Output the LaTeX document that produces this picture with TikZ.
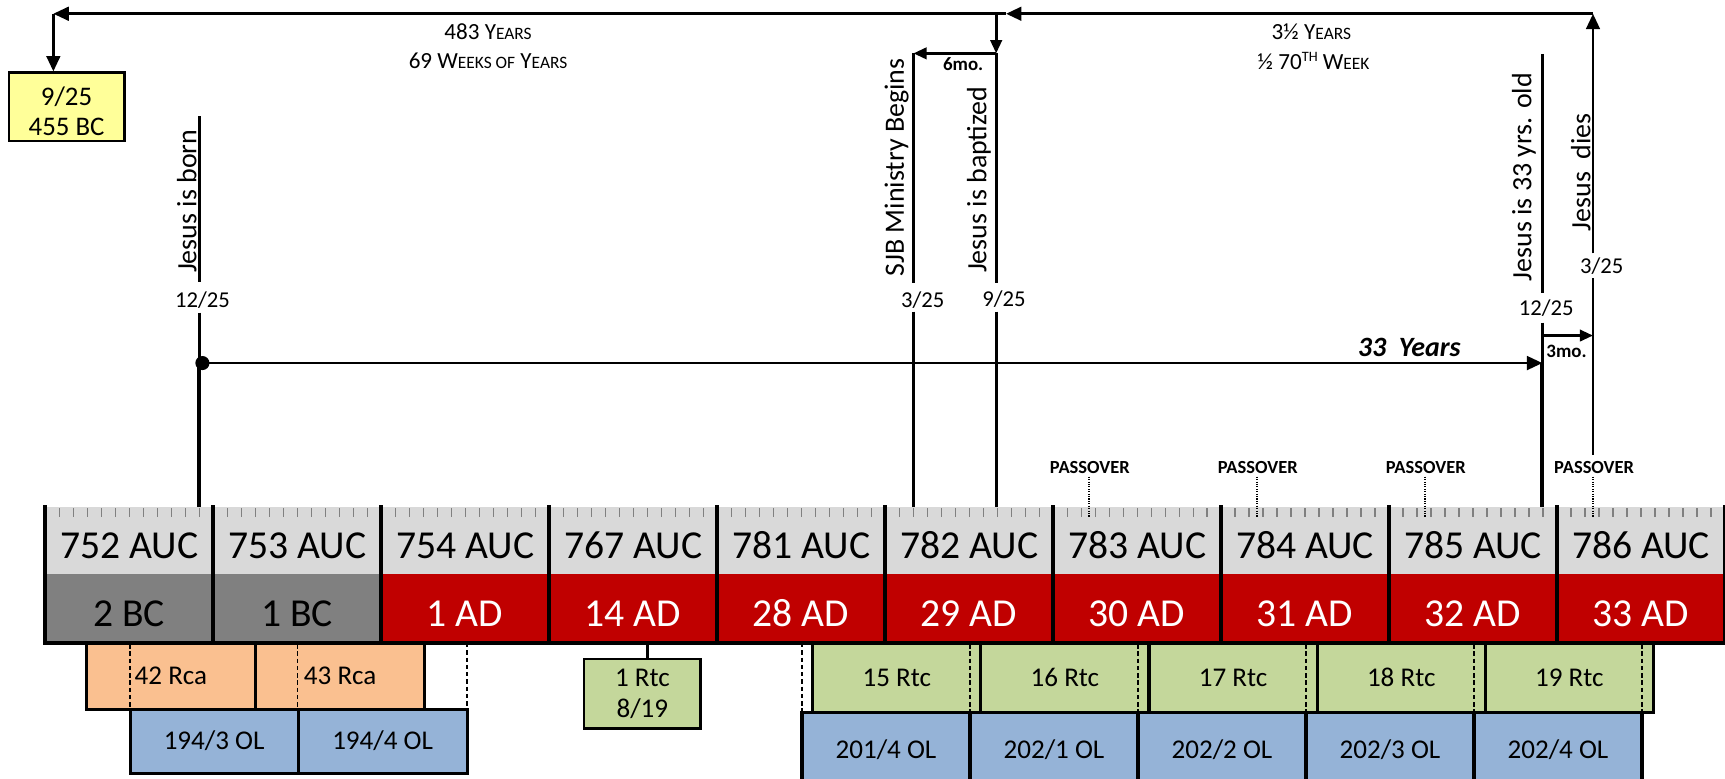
\documentclass[tikz,border=0pt]{standalone}
\usepackage{fontspec}
\setmainfont{Carlito}
\usetikzlibrary{arrows.meta}
\definecolor{tlgray}{HTML}{D9D9D9}
\definecolor{tldark}{HTML}{808080}
\definecolor{tlred}{HTML}{C00000}
\definecolor{rcaor}{HTML}{FAC090}
\definecolor{olblue}{HTML}{95B3D7}
\definecolor{rtcgreen}{HTML}{C4D79B}
\definecolor{yellowbx}{HTML}{FFFF99}
\newcommand\scx[1]{{\fontsize{7.9}{9}\selectfont #1}}
\begin{document}
\begin{tikzpicture}[x=0.5pt,y=-0.5pt,
  arr/.style={-{Triangle[length=7pt,width=6.2pt]}},
  sarr/.style={-{Triangle[length=6pt,width=5.2pt]}},
  ln/.style={line width=1.25pt},
  thickln/.style={line width=1.9pt},
  tickln/.style={draw=tldark, line width=0.5pt},
  border/.style={line width=1.5pt, line cap=rect},
  dashln/.style={line width=0.6pt, dash pattern=on 2pt off 1.3pt},
  dotln/.style={line width=0.8pt, dash pattern=on 0.5pt off 0.6pt},
  evtext/.style={rotate=90, inner sep=0pt, font=\fontsize{12.7}{15}\selectfont},
  datetext/.style={inner sep=0pt, font=\fontsize{10.3}{12}\selectfont, text height=6.5pt, text depth=0pt},
  tlyear/.style={inner sep=0pt, font=\fontsize{18}{21}\selectfont, text height=11.4pt, text depth=0pt},
  bxbase/.style={draw, line width=1.45pt, inner sep=0pt},
  bx/.style={bxbase, font=\fontsize{12.3}{14}\selectfont, text height=7.8pt, text depth=0pt},
  rcabox/.style={bx, fill=rcaor},
  olbox/.style={bx, fill=olblue},
  rtcbox/.style={bx, fill=rtcgreen},
  passtext/.style={inner sep=0pt, font=\fontsize{8.4}{10}\selectfont\bfseries},
  motext/.style={inner sep=0pt, font=\fontsize{8.6}{10}\selectfont\bfseries},
  toptext/.style={inner sep=0pt, font=\fontsize{10.5}{12}\selectfont},
]
\useasboundingbox (0,0) rectangle (1568,708);

% ---- timeline ----
\foreach \i/\yr/\era/\ec/\tc in {0/752 AUC/2 BC/tldark/black, 1/753 AUC/1 BC/tldark/black,
  2/754 AUC/1 AD/tlred/white, 3/767 AUC/14 AD/tlred/white, 4/781 AUC/28 AD/tlred/white,
  5/782 AUC/29 AD/tlred/white, 6/783 AUC/30 AD/tlred/white, 7/784 AUC/31 AD/tlred/white,
  8/785 AUC/32 AD/tlred/white, 9/786 AUC/33 AD/tlred/white}{
  \pgfmathsetmacro\xa{41+152.7*\i}
  \pgfmathsetmacro\xb{\xa+152.7}
  \pgfmathsetmacro\xc{\xa+76.35}
  \fill[tlgray] (\xa,460.6) rectangle (\xb,521.5);
  \fill[\ec] (\xa,521.5) rectangle (\xb,584.5);
  \foreach \k in {1,...,11} \draw[tickln] ({\xa+\k*152.7/12},462) -- ++(0,8);
  \node[tlyear] (auc\i) at (\xc,496.2) {\yr};
  \node[tlyear,text=\tc] (era\i) at (\xc,558) {\era};
}
\foreach \i in {0,...,10} \draw[border] ({41+152.7*\i},460.6) -- ({41+152.7*\i},584.5);
\draw[border] (41,584.5) -- (1568,584.5);

% ---- passover ----
\foreach \i/\px in {0/989.6, 1/1142.3, 2/1295, 3/1448}{
  \node[passtext, anchor=base] (pass\i) at (\px+1,430.3) {PASSOVER};
  \draw[dotln] (\px,433.3) -- (\px,469.7);
}

% ---- yellow box ----
\node[bxbase, line width=1.1pt, fill=yellowbx, minimum width=52.5pt, minimum height=31pt] (ybox) at (60.5,97) {};
\node[inner sep=0pt, align=center, font=\fontsize{12.2}{13.6}\selectfont] (ytext) at (60.5,101) {9/25\\455 BC};

% ---- top arrows ----
\coordinate (tl) at (48.5,12.5);
\coordinate (tb) at (905.5,12.5);
\coordinate (tr) at (1448,12.5);
\coordinate (sj) at (830.3,48.5);
\coordinate (bp) at (905.5,48.5);
\draw[ln,arr] (tr) -- (914.5,12.5);
\draw[ln] (914.5,12.5) -- (tb);
\draw[ln,arr] (tb) -- (tl);
\draw[ln,arr] (tl) -- (tl |- ybox.north);
\draw[ln,sarr] (tb) -- (bp);
\draw[ln,sarr] (bp) -- (sj);

\node[toptext, anchor=base] (t483) at (443.6,36) {483 Y\scx{EARS}};
\node[toptext, anchor=base] (t69) at (443.6,62.5) {69 W\scx{EEKS OF} Y\scx{EARS}};
\node[toptext, anchor=base] (t35) at (1192,36) {3½ Y\scx{EARS}};
\node[toptext, anchor=base] (t70) at (1194,63) {½ 70{\fontsize{6.5}{7}\selectfont\raisebox{3.6pt}{TH}} W\scx{EEK}};
\node[motext, anchor=base] (m6) at (875.5,64.5) {6mo.};

% ---- Jesus is born ----
\draw[ln] (181,105.5) -- (181,256);
\node[evtext, anchor=base west] (lborn) at (178.5,248.5) {Jesus is born};
\node[datetext] (dborn) at (184,272.7) {12/25};
\draw[ln] (181,284.2) -- (181,330);
\draw[thickln] (181,330) -- (181,460.6);
\node[circle, fill, inner sep=0pt, minimum size=6.4pt] (bdot) at (184,330) {};

% ---- SJB ----
\draw[ln] (sj) -- (830.3,257.6);
\node[evtext, anchor=base west] (lsjb) at (821.5,251.5) {SJB Ministry Begins};
\node[datetext] (dsjb) at (838.8,272.75) {3/25};
\draw[ln] (830.3,283.3) -- (830.3,460.6);

% ---- baptism ----
\draw[ln] (bp) -- (905.5,257.6);
\node[evtext, anchor=base west] (lbap) at (896.5,248.5) {Jesus is baptized};
\node[datetext] (dbap) at (912.7,272.3) {9/25};
\draw[ln] (905.5,283.3) -- (905.5,460.6);

% ---- 33 years old ----
\draw[ln] (1402,49) -- (1402,266.7);
\node[evtext, anchor=base west] (l33) at (1392,256) {Jesus is 33 yrs. old};
\node[datetext] (d33) at (1405.5,280.3) {12/25};
\draw[ln] (1402,293.3) -- (1402,330);
\draw[thickln] (1402,330) -- (1402,460.6);
\coordinate (e33) at (1402,330);
\draw[ln,arr] (bdot.center) -- (e33);
\node[anchor=base, inner sep=0pt, font=\fontsize{12.7}{15}\selectfont\bfseries\itshape] (y33) at (1281,323.6) {33\ \ Years};

% ---- dies ----
\node[evtext, anchor=base west] (ldies) at (1445.5,210.6) {Jesus\ \ dies};
\node[datetext] (ddies) at (1456,242.4) {3/25};
\draw[ln,arr] (1448,230.3) -- (tr);
\draw[ln] (1448,253) -- (1448,413.6);
\draw[ln,sarr] (1402,305) -- (1448,305);
\node[motext, anchor=base] (m3) at (1424,324.8) {3mo.};

% ---- Rca / OL left ----
\node[rcabox, minimum width=77.05pt, minimum height=30pt] (rca42) at (155.35,614.6) {42 Rca};
\node[rcabox, minimum width=76.8pt, minimum height=30pt] (rca43) at (309.2,614.6) {43 Rca};
\draw[dashln] (118.3,585.5) -- (118.3,644);
\draw[dashln] (270.7,585.5) -- (270.7,644);
\draw[dashln] (424.6,584.5) -- (424.6,644.6);
\node[olbox, minimum width=76.35pt, minimum height=29.2pt] (ol1943) at (194.65,673.8) {194/3 OL};
\node[olbox, minimum width=76.8pt, minimum height=29.2pt] (ol1944) at (347.8,673.8) {194/4 OL};

% ---- 1 Rtc ----
\node[bxbase, line width=1.2pt, fill=rtcgreen, align=center, font=\fontsize{12.3}{14.25}\selectfont,
  minimum width=52.9pt, minimum height=31.5pt] (rtc1) at (583.9,630.5) {1 Rtc\\8/19};
\coordinate (c1) at (588.5,584.5);
\draw[line width=1pt] (c1) -- (c1 |- rtc1.north);

% ---- Rtc / OL right ----
\foreach \k/\t in {0/15,1/16,2/17,3/18,4/19}{
  \node[rtcbox, minimum width=76.43pt, minimum height=31.55pt] (rtc\t) at ({738.7+152.85*\k+76.425},616.35) {\t\ Rtc};
}
\foreach \k in {1,...,5} \draw[dashln] ({729+152.7*\k},585.5) -- ({729+152.7*\k},647.3);
\draw[dashln] (729,584.5) -- (729,647.9);
\node[olbox, minimum width=76.35pt, minimum height=33.55pt] (ol2014) at (805.35,681.45) {201/4 OL};
\node[olbox, minimum width=76.35pt, minimum height=33.55pt] (ol2021) at (958.05,681.45) {202/1 OL};
\node[olbox, minimum width=76.35pt, minimum height=33.55pt] (ol2022) at (1110.75,681.45) {202/2 OL};
\node[olbox, minimum width=76.35pt, minimum height=33.55pt] (ol2023) at (1263.45,681.45) {202/3 OL};
\node[olbox, minimum width=76.35pt, minimum height=33.55pt] (ol2024) at (1416.15,681.45) {202/4 OL};
\end{tikzpicture}
\end{document}
